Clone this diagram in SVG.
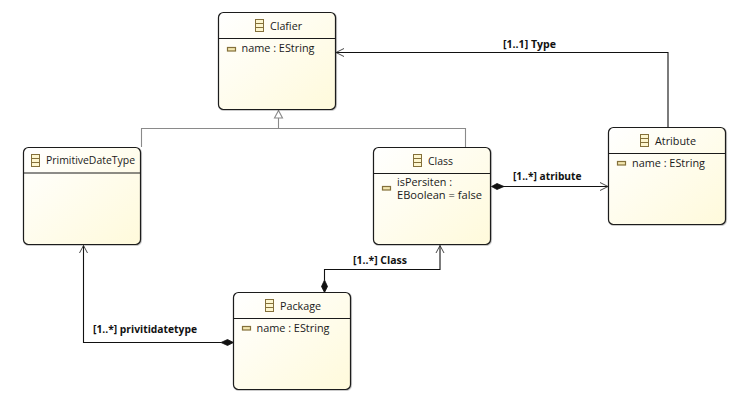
<svg xmlns="http://www.w3.org/2000/svg" width="730" height="403" viewBox="0 0 730 403">
<style>
text{font-family:"Open Sans","Noto Sans","Liberation Sans",sans-serif;font-size:11px;fill:#1a1a1a;lengthAdjust:spacingAndGlyphs}
.lbl{font-weight:700;fill:#111}
.box{fill:url(#g);stroke:#1a1a1a;stroke-width:1.2}
.div{stroke:#1a1a1a;stroke-width:1}
.ci{fill:#fdf6cf;stroke:#84703a;stroke-width:1}
.ai{fill:#f3e7b0;stroke:#84703a;stroke-width:1.2}
.edge{fill:none;stroke:#111;stroke-width:1.1}
.head{fill:none;stroke:#333;stroke-width:.9}
.gen{fill:none;stroke:#8a8a8a;stroke-width:1.1}
.dia{fill:#111;stroke:#111;stroke-width:.8}
</style>
<defs>
<linearGradient id="g" x1="0" y1="0" x2="1" y2="1"><stop offset="0" stop-color="#ffffff"/><stop offset="1" stop-color="#fffadb"/></linearGradient>
<symbol id="cicon" overflow="visible"><rect class="ci" x="0.5" y="0.5" width="8" height="12"/><path class="ci" d="M.5 4.500h8M.5 8.500h8"/></symbol>
<symbol id="aicon" overflow="visible"><rect class="ai" x="0.5" y="0.5" width="8" height="3.500"/></symbol>
<filter id="s" x="-5%" y="-5%" width="110%" height="110%"><feDropShadow dx="0.6" dy="0.6" stdDeviation="0.6" flood-color="#000" flood-opacity="0.35"/></filter>
</defs>
<rect width="730" height="403" fill="#fff"/>
<g id="connectors">
<path class="gen" d="M141.500 147V128.500H465.500V147M278.500 128.500V118"/>
<path d="M278.500 110.500L274.500 118H282.500Z" fill="#fff" stroke="#8a8a8a" stroke-width="1.1"/>
<path class="edge" d="M668 127V52.500H336"/>
<path class="head" d="M344 48.500L336 52.500L344 56.500"/>
<path class="edge" d="M503 186.500H608"/>
<path class="head" d="M600 182.500L608 186.500L600 190.500"/>
<path class="dia" d="M491.500 186.500L497 183.500L504 186.500L497 189.500Z"/>
<path class="edge" d="M324.500 280V269.500H440V245.500"/>
<path class="head" d="M436 253L440 245.500L444 253"/>
<path class="dia" d="M324.500 292.500L321.500 286.500L324.500 280L327.500 286.500Z"/>
<path class="edge" d="M221 342.500H83.500V245.500"/>
<path class="head" d="M79.500 253L83.500 245.500L87.500 253"/>
<path class="dia" d="M233.500 342.500L227.500 339.500L221 342.500L227.500 345.500Z"/>
<text class="lbl" x="503" y="48" textLength="53" lengthAdjust="spacingAndGlyphs">[1..1] Type</text>
<text class="lbl" x="513" y="180" textLength="68.500" lengthAdjust="spacingAndGlyphs">[1..*] atribute</text>
<text class="lbl" x="353" y="264" textLength="54" lengthAdjust="spacingAndGlyphs">[1..*] Class</text>
<text class="lbl" x="93" y="333" textLength="104" lengthAdjust="spacingAndGlyphs">[1..*] privitidatetype</text>
</g>
<g id="clafier">
<rect class="box" filter="url(#s)" x="218.500" y="12.500" width="117" height="97" rx="5"/>
<path class="div" d="M218.500 38.500H335.500"/>
<use href="#cicon" x="255" y="19"/>
<text x="270" y="29.500" textLength="32" lengthAdjust="spacingAndGlyphs">Clafier</text>
<use href="#aicon" x="227" y="47"/>
<text x="241.500" y="52" textLength="73" lengthAdjust="spacingAndGlyphs">name : EString</text>
</g>
<g id="primitive">
<rect class="box" filter="url(#s)" x="23.500" y="147.500" width="117" height="97" rx="5"/>
<path class="div" d="M23.500 173H140.500"/>
<use href="#cicon" x="31" y="154"/>
<text x="46" y="164" textLength="89" lengthAdjust="spacingAndGlyphs">PrimitiveDateType</text>
</g>
<g id="class">
<rect class="box" filter="url(#s)" x="373.500" y="147.500" width="117" height="97" rx="5"/>
<path class="div" d="M373.500 173.500H490.500"/>
<use href="#cicon" x="413" y="154"/>
<text x="428" y="164.500" textLength="25" lengthAdjust="spacingAndGlyphs">Class</text>
<use href="#aicon" x="382" y="186"/>
<text x="397" y="186" textLength="55" lengthAdjust="spacingAndGlyphs">isPersiten :</text>
<text x="397" y="199" textLength="85" lengthAdjust="spacingAndGlyphs">EBoolean = false</text>
</g>
<g id="atribute">
<rect class="box" filter="url(#s)" x="608.500" y="127.500" width="117" height="97" rx="5"/>
<path class="div" d="M608.500 153.500H725.500"/>
<use href="#cicon" x="640" y="134"/>
<text x="655" y="144.500" textLength="41" lengthAdjust="spacingAndGlyphs">Atribute</text>
<use href="#aicon" x="617" y="161"/>
<text x="632" y="167" textLength="73" lengthAdjust="spacingAndGlyphs">name : EString</text>
</g>
<g id="package">
<rect class="box" filter="url(#s)" x="233.500" y="292.500" width="117" height="97" rx="5"/>
<path class="div" d="M233.500 318.500H350.500"/>
<use href="#cicon" x="265" y="299"/>
<text x="280" y="309.500" textLength="41" lengthAdjust="spacingAndGlyphs">Package</text>
<use href="#aicon" x="242" y="326"/>
<text x="256.500" y="332" textLength="73" lengthAdjust="spacingAndGlyphs">name : EString</text>
</g>
</svg>
